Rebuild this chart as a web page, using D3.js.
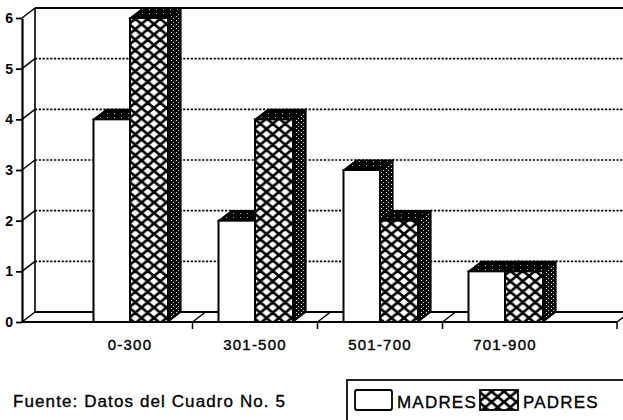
<!DOCTYPE html>
<html>
<head>
<meta charset="utf-8">
<script src="https://cdn.jsdelivr.net/npm/d3@7"></script>
<style>
  html, body { margin: 0; padding: 0; background: #fff; }
  svg { display: block; }
  text { font-family: "Liberation Sans", Arial, Helvetica, sans-serif; fill: #000; }
</style>
</head>
<body>
<script>
// ---- data ----
const categories = ["0-300", "301-500", "501-700", "701-900"];
const madres = [4, 2, 3, 1];
const padres = [6, 4, 2, 1];
const yTickValues = [0, 1, 2, 3, 4, 5, 6];
const seriesNames = ["MADRES", "PADRES"];
const sourceNote = "Fuente:  Datos del Cuadro No. 5";

// ---- layout ----
const W = 623, H = 420;
const DX = 13, DY = -10;          // 3D depth offset
const frontLeft = 22, plotRight = 617;
const barW = 36.5;

const svg = d3.select("body").append("svg").attr("width", W).attr("height", H);
svg.append("rect").attr("width", W).attr("height", H).attr("fill", "#fff");

const y = d3.scaleLinear().domain([0, 6]).range([322, 18]);
const x = d3.scaleBand().domain(categories).range([67.5, 567.5]).padding(0);

// ---- patterns ----
const defs = svg.append("defs");
const hw = 12.5, hh = 10.5;
const hatch = defs.append("pattern").attr("id", "hatch").attr("patternUnits", "userSpaceOnUse")
  .attr("width", hw).attr("height", hh).attr("x", 4).attr("y", 3);
hatch.append("rect").attr("width", hw).attr("height", hh).attr("fill", "#fff");
hatch.append("path")
  .attr("d", [
    `M${-hw},${-hh} L${2 * hw},${2 * hh}`,
    `M${2 * hw},${-hh} L${-hw},${2 * hh}`,
    `M${-hw},0 L${hw},${2 * hh}`,
    `M0,${-hh} L${2 * hw},${hh}`,
    `M${2 * hw},0 L0,${2 * hh}`,
    `M${hw},${-hh} L${-hw},${hh}`
  ].join(" "))
  .attr("stroke", "#000").attr("stroke-width", 2.7).attr("fill", "none");

const sidePat = defs.append("pattern").attr("id", "side").attr("patternUnits", "userSpaceOnUse")
  .attr("width", 5).attr("height", 4);
sidePat.append("rect").attr("width", 5).attr("height", 4).attr("fill", "#0a0a0a");
sidePat.append("rect").attr("x", 1).attr("y", 0).attr("width", 1).attr("height", 1).attr("fill", "#eee");
sidePat.append("rect").attr("x", 3).attr("y", 2).attr("width", 1).attr("height", 1).attr("fill", "#ccc");

const topPat = defs.append("pattern").attr("id", "topf").attr("patternUnits", "userSpaceOnUse")
  .attr("width", 7).attr("height", 4);
topPat.append("rect").attr("width", 7).attr("height", 4).attr("fill", "#000");
topPat.append("rect").attr("x", 2).attr("y", 1).attr("width", 1).attr("height", 1).attr("fill", "#aaa");

// ---- back wall gridlines ----
const wall = svg.append("g");
wall.selectAll("line.grid").data(yTickValues.filter(v => v > 0 && v < 6)).join("line")
  .attr("x1", frontLeft + DX).attr("x2", W)
  .attr("y1", d => y(d) + DY).attr("y2", d => y(d) + DY)
  .attr("stroke", "#000").attr("stroke-width", 1.7).attr("stroke-dasharray", "2.2,1.6");
wall.append("line").attr("x1", frontLeft + DX).attr("x2", W)
  .attr("y1", y(6) + DY).attr("y2", y(6) + DY).attr("stroke", "#000").attr("stroke-width", 2.2);
wall.append("line").attr("x1", frontLeft + DX).attr("x2", frontLeft + DX)
  .attr("y1", y(6) + DY).attr("y2", y(0) + DY).attr("stroke", "#000").attr("stroke-width", 1.6);
wall.selectAll("line.conn").data(yTickValues).join("line")
  .attr("x1", frontLeft).attr("x2", frontLeft + DX)
  .attr("y1", d => y(d)).attr("y2", d => y(d) + DY)
  .attr("stroke", "#000").attr("stroke-width", 1.5);

// ---- floor ----
const floor = svg.append("g");
floor.append("line").attr("x1", frontLeft + DX).attr("x2", W)
  .attr("y1", y(0) + DY).attr("y2", y(0) + DY).attr("stroke", "#000").attr("stroke-width", 1.8);
floor.append("line").attr("x1", frontLeft).attr("x2", plotRight)
  .attr("y1", y(0)).attr("y2", y(0)).attr("stroke", "#000").attr("stroke-width", 2);
const bounds = categories.slice(1).map(c => x(c)).concat([plotRight]);
floor.selectAll("path.div").data(bounds).join("path")
  .attr("d", d => `M${d},${y(0) + 7} L${d},${y(0)} L${d + DX},${y(0) + DY}`)
  .attr("fill", "none").attr("stroke", "#000").attr("stroke-width", 1.5);

// ---- bars ----
function drawBar(g, x0, w, v, fillFront) {
  const yf = y(v), yb = y(0);
  g.append("path")
    .attr("d", `M${x0 + w},${yf} L${x0 + w + DX},${yf + DY} L${x0 + w + DX},${yb + DY} L${x0 + w},${yb} Z`)
    .attr("fill", "url(#side)").attr("stroke", "#000").attr("stroke-width", 1.2);
  g.append("path")
    .attr("d", `M${x0},${yf} L${x0 + DX},${yf + DY} L${x0 + w + DX},${yf + DY} L${x0 + w},${yf} Z`)
    .attr("fill", "url(#topf)").attr("stroke", "#000").attr("stroke-width", 1.2);
  g.append("rect").attr("x", x0).attr("y", yf).attr("width", w).attr("height", yb - yf)
    .attr("fill", fillFront).attr("stroke", "#000").attr("stroke-width", 2);
}
const bars = svg.append("g");
categories.forEach((c, i) => {
  const cx = x(c) + x.bandwidth() / 2;
  const g = bars.append("g");
  drawBar(g, cx - barW, barW, madres[i], "#fff");
  drawBar(g, cx, barW + 1.5, padres[i], "url(#hatch)");
});

// ---- y axis ----
const yAxis = svg.append("g").attr("transform", `translate(${frontLeft},0)`)
  .call(d3.axisLeft(y).tickValues(yTickValues).tickSize(6).tickSizeOuter(0).tickPadding(3).tickFormat(d3.format("d")));
yAxis.select(".domain").attr("stroke", "#000").attr("stroke-width", 2.2);
yAxis.selectAll(".tick line").attr("stroke", "#000").attr("stroke-width", 1.8);
yAxis.selectAll(".tick text").attr("font-size", 14).attr("font-weight", "bold")
  .style("font-family", "Liberation Sans, Arial, sans-serif").attr("fill", "#000");

// ---- x axis labels ----
const xAxis = svg.append("g").attr("transform", `translate(0,${y(0)})`)
  .call(d3.axisBottom(x).tickSize(0).tickPadding(17));
xAxis.select(".domain").remove();
xAxis.selectAll(".tick text").attr("font-size", 15).attr("letter-spacing", "1.2px")
  .style("font-family", "Liberation Sans, Arial, sans-serif").attr("fill", "#000")
  .attr("stroke", "#000").attr("stroke-width", 0.4);

// ---- source note ----
svg.append("text").attr("x", 13).attr("y", 407).attr("font-size", 17).attr("letter-spacing", "1.1px")
  .attr("stroke", "#000").attr("stroke-width", 0.35).text(sourceNote);

// ---- legend ----
const lg = svg.append("g");
lg.append("rect").attr("x", 347).attr("y", 380).attr("width", 300).attr("height", 60)
  .attr("fill", "#fff").attr("stroke", "#222").attr("stroke-width", 2);
lg.append("rect").attr("x", 355).attr("y", 390).attr("width", 37).attr("height", 20).attr("rx", 2)
  .attr("fill", "#fff").attr("stroke", "#000").attr("stroke-width", 1.8);
lg.append("text").attr("x", 397).attr("y", 408).attr("font-size", 17).attr("letter-spacing", "1.2px")
  .attr("stroke", "#000").attr("stroke-width", 0.35).text(seriesNames[0]);
lg.append("rect").attr("x", 480).attr("y", 390).attr("width", 38).attr("height", 20)
  .attr("fill", "url(#hatch)").attr("stroke", "#000").attr("stroke-width", 1.8);
lg.append("text").attr("x", 523).attr("y", 408).attr("font-size", 17).attr("letter-spacing", "1.2px")
  .attr("stroke", "#000").attr("stroke-width", 0.35).text(seriesNames[1]);
</script>
</body>
</html>
